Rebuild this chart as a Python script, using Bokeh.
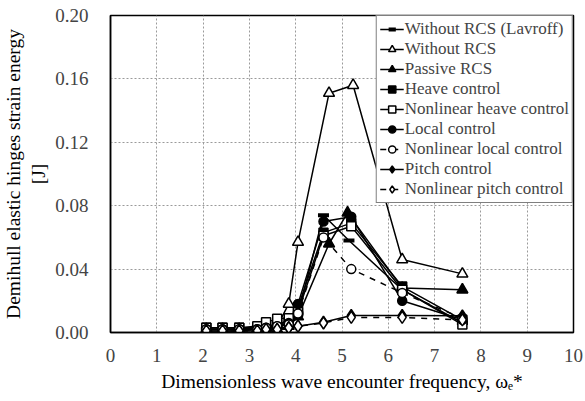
from bokeh.plotting import figure
from bokeh.models import Range1d, FixedTicker, Legend, LegendItem
from bokeh.embed import file_html
from bokeh.resources import INLINE

# ---------------- data ----------------
x_lavroff = [2.07, 2.42, 2.78, 3.17, 3.6, 4.05, 4.6, 5.15, 6.3, 7.6]
y_lavroff = [0.002, 0.002, 0.002, 0.003, 0.004, 0.012, 0.074, 0.058, 0.027, 0.006]

x_without = [2.07, 2.42, 2.78, 3.17, 3.36, 3.6, 3.85, 4.05, 4.72, 5.24, 6.3, 7.6]
y_without = [0.002, 0.002, 0.002, 0.002, 0.003, 0.004, 0.018, 0.057, 0.151, 0.156, 0.046, 0.037]

x_passive = [2.07, 2.42, 2.78, 3.17, 3.36, 3.6, 3.85, 4.05, 4.72, 5.12, 6.3, 7.6]
y_passive = [0.001, 0.001, 0.001, 0.002, 0.002, 0.002, 0.004, 0.010, 0.056, 0.0755, 0.028, 0.027]

x_ctrl = [2.07, 2.42, 2.78, 3.17, 3.36, 3.6, 3.85, 4.05, 4.6, 5.2, 6.3, 7.6]
y_heave = [0.003, 0.003, 0.003, 0.003, 0.004, 0.005, 0.007, 0.016, 0.063, 0.069, 0.029, 0.008]
y_nl_heave = [0.003, 0.003, 0.003, 0.004, 0.0065, 0.0086, 0.009, 0.013, 0.061, 0.067, 0.027, 0.005]
y_local = [0.002, 0.002, 0.002, 0.002, 0.003, 0.004, 0.006, 0.018, 0.070, 0.073, 0.020, 0.008]
y_nl_local = [0.002, 0.002, 0.002, 0.002, 0.003, 0.004, 0.005, 0.012, 0.060, 0.040, 0.025, 0.009]
y_pitch = [0.001, 0.001, 0.001, 0.001, 0.002, 0.002, 0.003, 0.004, 0.0065, 0.0107, 0.0107, 0.0105]
y_nl_pitch = [0.001, 0.001, 0.001, 0.001, 0.002, 0.002, 0.003, 0.004, 0.006, 0.0095, 0.0095, 0.008]

x_ticks = [0, 1, 2, 3, 4, 5, 6, 7, 8, 9, 10]
y_ticks = [0.0, 0.04, 0.08, 0.12, 0.16, 0.20]
y_tick_labels = ["0.00", "0.04", "0.08", "0.12", "0.16", "0.20"]

x_title = "Dimensionless wave encounter frequency, \u03c9\u2091*"
y_title = "Demihull elastic hinges strain energy\n[J]"

series = [
    ("Without RCS (Lavroff)", x_lavroff, y_lavroff, "dash", "black", "solid"),
    ("Without RCS", x_without, y_without, "triangle", "white", "solid"),
    ("Passive RCS", x_passive, y_passive, "triangle", "black", "solid"),
    ("Heave control", x_ctrl, y_heave, "square", "black", "solid"),
    ("Nonlinear heave control", x_ctrl, y_nl_heave, "square", "white", "solid"),
    ("Local control", x_ctrl, y_local, "circle", "black", "solid"),
    ("Nonlinear local control", x_ctrl, y_nl_local, "circle", "white", "dashed"),
    ("Pitch control", x_ctrl, y_pitch, "diamond", "black", "solid"),
    ("Nonlinear pitch control", x_ctrl, y_nl_pitch, "diamond", "white", "dashed"),
]

FONT = "Times New Roman"

# ---------------- figure ----------------
p = figure(width=585, height=401, output_backend="svg", toolbar_location=None,
           x_range=Range1d(0, 10), y_range=Range1d(0, 0.2),
           min_border_left=107, min_border_right=12, min_border_top=15,
           min_border_bottom=69)
p.background_fill_color = "white"
p.border_fill_color = "white"
p.outline_line_color = "black"
p.outline_line_width = 1.5

p.xaxis.ticker = FixedTicker(ticks=x_ticks)
p.yaxis.ticker = FixedTicker(ticks=y_ticks)
p.yaxis.major_label_overrides = {t: s for t, s in zip(y_ticks, y_tick_labels)}
for ax in (p.xaxis[0], p.yaxis[0]):
    ax.axis_line_color = "black"
    ax.axis_line_width = 1.5
    ax.major_tick_line_color = None
    ax.minor_tick_line_color = None
    ax.major_label_text_font_size = "19px"
    ax.axis_label_text_font = FONT
    ax.axis_label_text_font_style = "normal"
    ax.axis_label_text_font_size = "19.5px"
    ax.axis_label_text_color = "black"
p.xaxis[0].major_label_text_font = "Times"
p.yaxis[0].major_label_text_font = "Liberation Serif, Times New Roman, serif"
p.xaxis[0].major_label_standoff = 10
p.yaxis[0].major_label_standoff = 16
p.xaxis[0].axis_label = x_title
p.yaxis[0].axis_label = y_title
p.xaxis[0].axis_label_standoff = 6
p.yaxis[0].axis_label_standoff = 3

for g in (p.xgrid[0], p.ygrid[0]):
    g.grid_line_color = "#9a9a9a"
    g.grid_line_dash = "2 2"
    g.grid_line_width = 1

renderers_by_name = {}
line_rs = []
for name, xs, ys, marker, fill, dash in series:
    lr = p.line(xs, ys, line_color="black", line_width=1.5, line_dash=dash)
    line_rs.append(lr)

for (name, xs, ys, marker, fill, dash), lr in zip(series, line_rs):
    if marker == "dash":
        sr = p.scatter(xs, ys, marker="dash", size=11, line_color="black", line_width=4)
    else:
        size = {"triangle": 11, "square": 9, "circle": 9, "diamond": 12}[marker]
        sr = p.scatter(xs, ys, marker=marker, size=size, fill_color=fill,
                       line_color="black", line_width=1.5)
    renderers_by_name[name] = [lr, sr]

legend = Legend(items=[LegendItem(label=n, renderers=renderers_by_name[n]) for n, *_ in series],
                location="top_right")
legend.margin = 0
legend.padding = 3
legend.spacing = 0
legend.glyph_width = 24
legend.glyph_height = 18
legend.label_height = 18
legend.label_standoff = 1
legend.label_text_font = FONT
legend.label_text_font_size = "17px"
legend.border_line_color = "black"
legend.border_line_width = 1.2
legend.background_fill_alpha = 1
p.add_layout(legend)

open("out.html", "w").write(file_html(p, INLINE))
